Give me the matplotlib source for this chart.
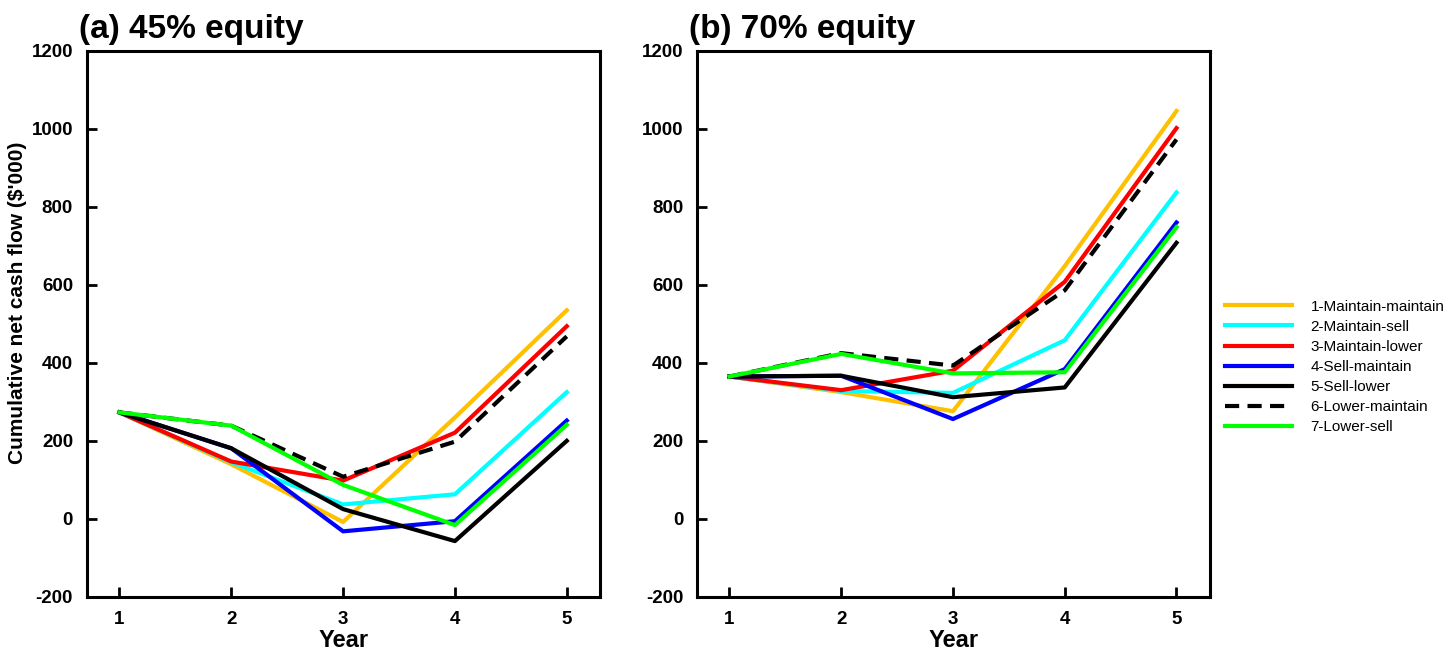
import matplotlib
matplotlib.use("Agg")
import matplotlib.pyplot as plt

plt.rcParams['font.family'] = ['Liberation Sans', 'DejaVu Sans']
plt.rcParams['axes.unicode_minus'] = False

years = [1, 2, 3, 4, 5]
names = ["1-Maintain-maintain", "2-Maintain-sell", "3-Maintain-lower",
         "4-Sell-maintain", "5-Sell-lower", "6-Lower-maintain", "7-Lower-sell"]
colors = ["#FFC000", "#00FFFF", "#FF0000", "#0000FF", "#000000", "#000000", "#00FF00"]
styles = ["-", "-", "-", "-", "-", "--", "-"]

# (a) 45% equity
eq45 = [
    [273, 140, -8, 260, 535],
    [273, 145, 37, 63, 325],
    [273, 147, 98, 221, 494],
    [273, 181, -32, -6, 252],
    [273, 181, 25, -57, 200],
    [273, 239, 108, 198, 468],
    [273, 239, 87, -16, 241],
]
# (b) 70% equity
eq70 = [
    [365, 325, 276, 648, 1046],
    [365, 328, 323, 458, 837],
    [365, 330, 380, 608, 1002],
    [365, 367, 256, 384, 760],
    [365, 367, 312, 337, 708],
    [365, 425, 393, 586, 973],
    [365, 423, 373, 376, 748],
]

fig = plt.figure(figsize=(14.5, 6.53), dpi=100)
ax1 = fig.add_axes([0.060, 0.086, 0.354, 0.836])
ax2 = fig.add_axes([0.4807, 0.086, 0.3538, 0.836])

for ax, data, title in [(ax1, eq45, "(a) 45% equity"), (ax2, eq70, "(b) 70% equity")]:
    for i in range(len(names)):
        ax.plot(years, data[i], color=colors[i], linestyle=styles[i], lw=3,
                label=names[i], dashes=(3.4, 2.0) if styles[i] == "--" else (None, None))
    ax.set_xlim(0.71, 5.3)
    ax.set_ylim(-200, 1200)
    ax.set_xticks(years)
    ax.set_yticks(range(-200, 1201, 200))
    ax.tick_params(direction="in", length=7, width=2, labelsize=13.5, pad=10)
    for lab in ax.get_xticklabels() + ax.get_yticklabels():
        lab.set_fontweight("bold")
    for s in ax.spines.values():
        s.set_linewidth(2.2)
    ax.set_xlabel("Year", fontsize=17, fontweight="bold", labelpad=1)
    ax.text(-0.015, 1.01, title, transform=ax.transAxes, fontsize=24,
            fontweight="bold", ha="left", va="bottom")

ax1.set_ylabel("Cumulative net cash flow ($'000)", fontsize=15, fontweight="bold")
ax1.yaxis.set_label_coords(-0.117, 0.538)

ax2.legend(loc="center left", bbox_to_anchor=(1.029, 0.421), frameon=False,
           handlelength=4.4, labelspacing=0.4, handletextpad=1.2,
           borderpad=0, borderaxespad=0, prop={"size": 11})

fig.savefig("out.png", dpi=100)
